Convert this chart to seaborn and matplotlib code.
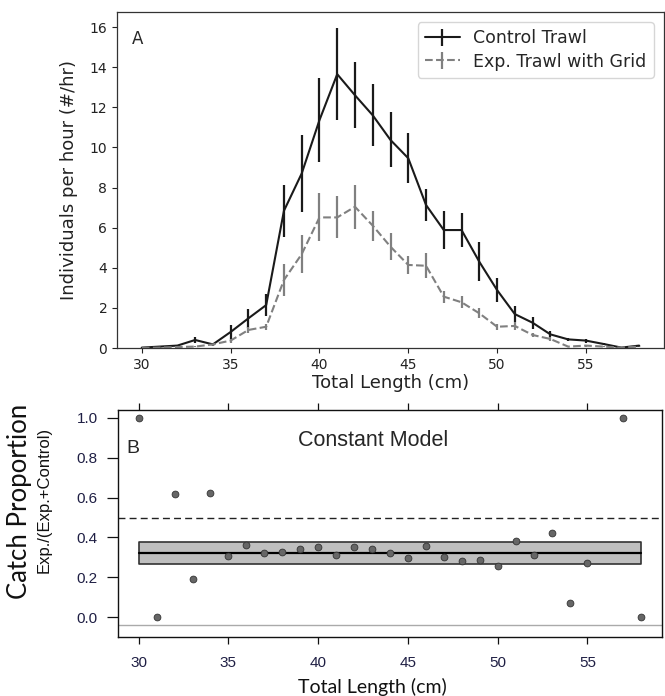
import numpy as np
import pandas as pd
import matplotlib
matplotlib.use("Agg")
import matplotlib.pyplot as plt
import seaborn as sns

# ---------------- data ----------------
lengths = [30, 31, 32, 33, 34, 35, 36, 37, 38, 39, 40, 41, 42, 43, 44,
           45, 46, 47, 48, 49, 50, 51, 52, 53, 54, 55, 56, 57, 58]
control_rate = [0.02, 0.07, 0.12, 0.40, 0.18, 0.80, 1.48, 2.14, 6.84, 8.70,
                11.36, 13.65, 12.60, 11.60, 10.37, 9.46, 7.13, 5.88, 5.88, 4.30,
                2.89, 1.69, 1.26, 0.68, 0.43, 0.37, 0.20, 0.02, 0.12]
control_err = [0.03, 0.04, 0.05, 0.15, 0.08, 0.35, 0.47, 0.55, 1.30, 1.90,
               2.10, 2.30, 1.65, 1.55, 1.37, 1.25, 0.80, 0.95, 0.85, 0.96,
               0.62, 0.40, 0.30, 0.15, 0.08, 0.10, 0.05, 0.03, 0.05]
exp_rate = [0.00, 0.02, 0.05, 0.07, 0.18, 0.37, 0.90, 1.06, 3.39, 4.68,
            6.51, 6.51, 7.04, 6.10, 5.05, 4.14, 4.10, 2.56, 2.28, 1.73,
            1.06, 1.10, 0.65, 0.45, 0.07, 0.12, 0.07, 0.02, 0.07]
exp_err = [0.02, 0.02, 0.03, 0.04, 0.06, 0.10, 0.15, 0.15, 0.80, 0.95,
           1.20, 1.05, 1.10, 0.75, 0.68, 0.45, 0.62, 0.30, 0.30, 0.25,
           0.15, 0.20, 0.12, 0.08, 0.04, 0.05, 0.04, 0.02, 0.04]

prop_x = [30, 31, 32, 33, 34, 35, 36, 37, 38, 39, 40, 41, 42, 43, 44,
          45, 46, 47, 48, 49, 50, 51, 52, 53, 54, 55, 57, 58]
prop_y = [1.0, 0.0, 0.616, 0.192, 0.621, 0.307, 0.362, 0.320, 0.326, 0.340,
          0.352, 0.312, 0.352, 0.342, 0.320, 0.296, 0.357, 0.300, 0.280, 0.285,
          0.259, 0.384, 0.310, 0.420, 0.070, 0.270, 1.0, 0.0]

model_x = [30, 58]
model_est = [0.324, 0.324]
model_lo = [0.266, 0.266]
model_hi = [0.376, 0.376]
ref_level = 0.5
base_level = -0.04

top_xticks = [30, 35, 40, 45, 50, 55]
top_yticks = [0, 2, 4, 6, 8, 10, 12, 14, 16]
bot_xticks = [30, 35, 40, 45, 50, 55]
bot_yticks = [0.0, 0.2, 0.4, 0.6, 0.8, 1.0]
bot_yticklabels = ["0.0", "0.2", "0.4", "0.6", "0.8", "1.0"]

# ---------------- figure ----------------
sns.set_theme(style="ticks")
plt.rcParams["font.family"] = ["DejaVu Sans"]

W, H = 665, 696
fig = plt.figure(figsize=(W / 100, H / 100), dpi=100)

def axrect(l, t, r, b):
    return [l / W, 1 - b / H, (r - l) / W, (b - t) / H]

# ---------- Panel A ----------
ax1 = fig.add_axes(axrect(117, 12, 664, 348))
ax1.errorbar(lengths, control_rate, yerr=control_err, color="#1a1a1a", lw=1.5,
             elinewidth=1.6, capsize=0, label="Control Trawl")
ax1.errorbar(lengths, exp_rate, yerr=exp_err, color="#808080", lw=1.5, ls="--",
             elinewidth=1.6, capsize=0, label="Exp. Trawl with Grid")
ax1.set_xlim(28.6, 59.4)
ax1.set_ylim(0, 16.75)
ax1.set_xticks(top_xticks)
ax1.set_yticks(top_yticks)
ax1.tick_params(axis="both", labelsize=10, length=3.5, width=0.8, colors="#222222",
                direction="out")
for s in ax1.spines.values():
    s.set_color("#333333")
    s.set_linewidth(0.9)
ax1.set_xlabel("Total Length (cm)", fontsize=13, color="#222222", labelpad=2)
ax1.set_ylabel("Individuals per hour (#/hr)", fontsize=13, color="#222222", labelpad=8)
ax1.text(0.027, 0.921, "A", transform=ax1.transAxes, fontsize=12, va="center", ha="left")
leg = ax1.legend(loc="upper right", fontsize=12.5, frameon=True, borderaxespad=0.6,
                 handlelength=2.0, labelspacing=0.3)
leg.get_frame().set_edgecolor("#cccccc")

# ---------- Panel B ----------
ax2 = fig.add_axes(axrect(118, 410, 662, 637))
ax2.fill_between(model_x, model_lo, model_hi, facecolor="#bfbfbf", edgecolor="#333333",
                 linewidth=1.2, zorder=1)
sns.lineplot(x=model_x, y=model_est, ax=ax2, color="black", lw=1.6, zorder=2)
ax2.axhline(ref_level, color="#222222", lw=1.0, ls=(0, (5, 3)), zorder=1)
ax2.axhline(base_level, color="#aaaaaa", lw=1.0, zorder=1)
sns.scatterplot(x=prop_x, y=prop_y, ax=ax2, s=24, color="#666666",
                edgecolor="#333333", linewidth=0.6, zorder=3)
ax2.set_xlim(28.85, 59.15)
ax2.set_ylim(-0.099, 1.039)
ax2.set_xticks(bot_xticks)
ax2.set_yticks(bot_yticks)
ax2.set_yticklabels(bot_yticklabels)
ax2.tick_params(axis="x", which="both", top=True, bottom=True, labeltop=False,
                labelbottom=True, length=5, width=0.9, pad=9, direction="out",
                labelsize=11, labelcolor="#1f1f44", color="#111111")
ax2.tick_params(axis="y", left=True, length=8, width=0.9, pad=6.5, direction="out",
                labelsize=11, labelcolor="#1f1f44", color="#111111")
for lab in ax2.get_xticklabels() + ax2.get_yticklabels():
    lab.set_fontfamily("Liberation Sans")
for s in ax2.spines.values():
    s.set_visible(True)
    s.set_color("#111111")
    s.set_linewidth(1.0)
ax2.text(0.0155, 0.83, "B", transform=ax2.transAxes, fontsize=14, va="center",
         ha="left", family="Liberation Sans")
fig.text(373 / W, 1 - 440 / H, "Constant Model", fontsize=15.5, ha="center", va="center",
         family="Liberation Sans")
fig.text(372 / W, 1 - 687 / H, "Total Length (cm)", fontsize=14, ha="center",
         va="center", family="Lato", color="#111111")
fig.text(20 / W, 1 - 501 / H, "Catch Proportion", fontsize=18.5, rotation=90,
         ha="center", va="center", family="Lato", color="#111111")
fig.text(44 / W, 1 - 500 / H, "Exp./(Exp.+Control)", fontsize=12, rotation=90,
         ha="center", va="center", family="Liberation Sans", color="#111111")

fig.savefig("out.png", dpi=100)
